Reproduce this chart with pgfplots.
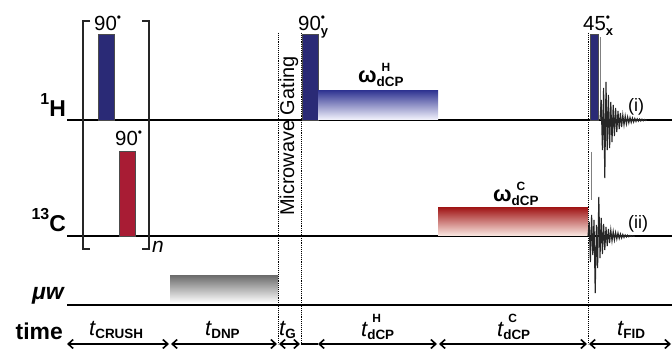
\documentclass[border=0pt]{standalone}
\usepackage{pgfplots}
\pgfplotsset{compat=1.18}
\usepackage{fontspec}
\setmainfont{Liberation Sans}
\usetikzlibrary{arrows.meta}
\definecolor{hblue}{RGB}{42,42,118}
\definecolor{cred}{RGB}{168,28,52}
\definecolor{hgradtop}{RGB}{52,56,148}
\definecolor{hgradbot}{RGB}{242,242,252}
\definecolor{cgradtop}{RGB}{162,26,26}
\definecolor{cgradbot}{RGB}{250,232,226}
\definecolor{mwtop}{RGB}{112,112,112}
\newcommand{\fs}[1]{\fontsize{#1}{#1}\selectfont}
\newcommand{\dotsup}{\raisebox{9bp}{\fs{12}\textbullet}}
\newcommand{\tsub}[1]{{\fs{22}\itshape t}\raisebox{-3bp}{\fs{13.5}\bfseries #1}}
\newcommand{\tsubsup}[2]{{\fs{22}\itshape t}\rlap{\hspace{5bp}\raisebox{14bp}{\fs{12}\bfseries #1}}\raisebox{-3bp}{\fs{13.5}\bfseries #2}}
\newcommand{\omsubsup}[2]{{\fs{22}\bfseries ω}\rlap{\hspace{5bp}\raisebox{11bp}{\fs{12}\bfseries #1}}\raisebox{-4bp}{\fs{13.5}\bfseries #2}}
\begin{document}
\begin{tikzpicture}
\begin{axis}[scale only axis, width=672bp, height=349bp,
  xmin=0, xmax=672, ymin=-349, ymax=0, hide axis, clip=false]
% channel baselines
\addplot[black, line width=1.3bp] coordinates {(67,-120)(672,-120)};
\addplot[black, line width=1.3bp] coordinates {(67,-236)(672,-236)};
\addplot[black, line width=1.3bp] coordinates {(67,-305)(672,-305)};
% crusher bracket
\addplot[black!85, line width=1.2bp] coordinates {(90,-21)(83,-21)(83,-249)(90,-249)};
\addplot[black!85, line width=1.2bp] coordinates {(142,-21)(149,-21)(149,-249)(142,-249)};
% pulses
\addplot[fill=hblue, draw=black!70, line width=0.5bp] coordinates {(98,-120)(98,-34)(114,-34)(114,-120)} -- cycle;
\addplot[fill=cred, draw=black!70, line width=0.5bp] coordinates {(119,-236)(119,-151)(135,-151)(135,-236)} -- cycle;
\addplot[fill=hblue, draw=black!70, line width=0.5bp] coordinates {(302,-120)(302,-34)(318,-34)(318,-120)} -- cycle;
\addplot[fill=hblue, draw=black!70, line width=0.5bp] coordinates {(590,-120)(590,-34)(598,-34)(598,-120)} -- cycle;
\addplot[gray, line width=0.9bp] coordinates {(600,-37)(600,-120)};
\addplot[gray, line width=0.8bp] coordinates {(591,-152)(591,-200)};
% shaped blocks
\addplot[draw=none, top color=mwtop, bottom color=white] coordinates {(170,-303)(170,-276)(278,-276)(278,-303)} -- cycle;
\addplot[draw=none, top color=hgradtop, bottom color=hgradbot] coordinates {(318,-119.5)(318,-91)(438,-91)(438,-119.5)} -- cycle;
\addplot[draw=none, top color=cgradtop, bottom color=cgradbot] coordinates {(438,-235.5)(438,-208)(588,-208)(588,-235.5)} -- cycle;
% dotted gating lines
\addplot[black, densely dotted, line width=0.9bp] coordinates {(278,-33)(278,-344)};
\addplot[black, densely dotted, line width=0.9bp] coordinates {(301,-33)(301,-344)};
\addplot[black, densely dotted, line width=0.9bp] coordinates {(588,-33)(588,-344)};
% FIDs
\addplot[black!85, line width=1.1bp] coordinates {(600,-120)(601.2,-100)(602.4,-150)(603.6,-88)(604.8,-178)(606,-82)(607.2,-150)(608.4,-95)(609.6,-148)(610.8,-102)(612,-142)(613.2,-105)(614.4,-136)(615.6,-108)(616.8,-132)(618,-111)(619.2,-129)(620.4,-113)(621.6,-127)(622.8,-115)(624,-125)(625.2,-116)(626.4,-124)(627.6,-117)(628.8,-123)(630,-117.5)(631.2,-122.5)(632.4,-118)(633.6,-122)(634.8,-118.5)(636,-121.5)(637.2,-118.8)(638.4,-121.2)(639.6,-119)(640.8,-121)(642,-119.2)(643.2,-120.8)(644.4,-119.5)(645.6,-120.5)(646.8,-120)};
\addplot[black!85, line width=1.1bp] coordinates {(588,-236)(589.2,-222)(590.4,-262)(591.6,-215)(592.8,-255)(594,-220)(595.2,-293)(596.4,-225)(597.6,-268)(598.8,-197)(600,-258)(601.2,-218)(602.4,-254)(603.6,-224)(604.8,-250)(606,-227)(607.2,-246)(608.4,-229)(609.6,-243)(610.8,-230)(612,-241)(613.2,-231.5)(614.4,-240)(615.6,-232.5)(616.8,-239)(618,-233)(619.2,-238.5)(620.4,-234)(621.6,-238)(622.8,-234.5)(624,-237.5)(625.2,-235)(626.4,-237)(627.6,-235.2)(628.8,-236.8)(630,-235.5)(631.2,-236.5)(632.4,-235.7)(633.6,-236.3)(634.8,-236)};
% time arrows
\addplot[black, line width=1.6bp, {Straight Barb[length=5bp,width=9bp]}-{Straight Barb[length=5bp,width=9bp]}] coordinates {(67,-344)(169,-344)};
\addplot[black, line width=1.6bp, {Straight Barb[length=5bp,width=9bp]}-{Straight Barb[length=5bp,width=9bp]}] coordinates {(171,-344)(277,-344)};
\addplot[black, line width=1.6bp, {Straight Barb[length=5bp,width=9bp]}-{Straight Barb[length=5bp,width=9bp]}] coordinates {(279,-344)(300,-344)};
\addplot[black, line width=1.2bp] coordinates {(301,-344)(318,-344)};
\addplot[black, line width=1.6bp, {Straight Barb[length=5bp,width=9bp]}-{Straight Barb[length=5bp,width=9bp]}] coordinates {(318,-344)(437,-344)};
\addplot[black, line width=1.6bp, {Straight Barb[length=5bp,width=9bp]}-{Straight Barb[length=5bp,width=9bp]}] coordinates {(439,-344)(587,-344)};
\addplot[black, line width=1.6bp, {Straight Barb[length=5bp,width=9bp]}-{Straight Barb[length=5bp,width=9bp]}] coordinates {(589,-344)(671,-344)};
% channel labels
\node[anchor=base east, inner sep=0] at (axis cs:66,-117) {\fs{23}\bfseries\raisebox{12bp}{\fs{16}1}H};
\node[anchor=base east, inner sep=0] at (axis cs:66,-232) {\fs{23}\bfseries\raisebox{12bp}{\fs{16}13}C};
\node[anchor=base east, inner sep=0] at (axis cs:64,-300) {\fs{23}\bfseries\itshape μw};
\node[anchor=base east, inner sep=0] at (axis cs:63,-339) {\fs{23}\bfseries time};
% pulse labels
\node[anchor=base west, inner sep=0] at (axis cs:94,-31) {\fs{20.5}90\dotsup};
\node[anchor=base west, inner sep=0] at (axis cs:115,-146) {\fs{20.5}90\dotsup};
\node[anchor=base west, inner sep=0] at (axis cs:298,-31) {\fs{20.5}90\rlap{\raisebox{-5bp}{\fs{13}\bfseries y}}\dotsup};
\node[anchor=base west, inner sep=0] at (axis cs:583,-31) {\fs{20.5}45\rlap{\raisebox{-5bp}{\fs{13}\bfseries x}}\dotsup};
\node[anchor=base west, inner sep=0] at (axis cs:152,-253) {\fs{21}\itshape n};
\node[anchor=base west, inner sep=0] at (axis cs:358,-83) {\omsubsup{H}{dCP}};
\node[anchor=base west, inner sep=0] at (axis cs:493,-202) {\omsubsup{C}{dCP}};
\node[anchor=base west, inner sep=0] at (axis cs:628,-112) {\fs{18}(i)};
\node[anchor=base west, inner sep=0] at (axis cs:628,-229) {\fs{18}(ii)};
\node[rotate=90, inner sep=0] at (axis cs:289,-136) {\fs{20}Microwave Gating};
% time labels
\node[anchor=base west, inner sep=0] at (axis cs:89,-335) {\tsub{CRUSH}};
\node[anchor=base west, inner sep=0] at (axis cs:205,-335) {\tsub{DNP}};
\node[anchor=base west, inner sep=0] at (axis cs:279,-335) {\tsub{G}};
\node[anchor=base west, inner sep=0] at (axis cs:361,-336) {\tsubsup{H}{dCP}};
\node[anchor=base west, inner sep=0] at (axis cs:497,-336) {\tsubsup{C}{dCP}};
\node[anchor=base west, inner sep=0] at (axis cs:617,-335) {\tsub{FID}};
\end{axis}
\pgfresetboundingbox
\path (0,0) rectangle (672bp,349bp);
\end{tikzpicture}
\end{document}
